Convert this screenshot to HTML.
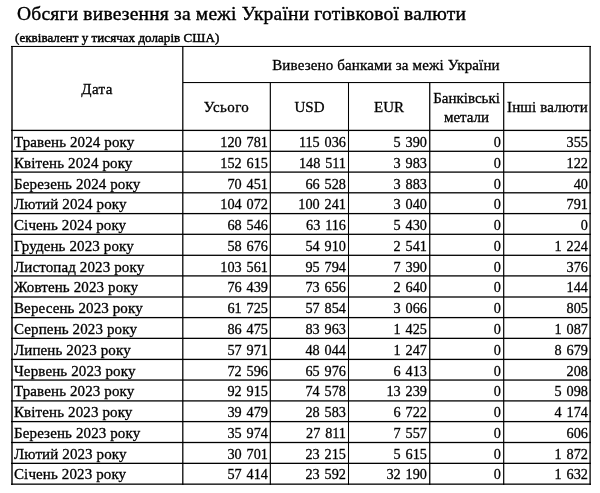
<!DOCTYPE html>
<html><head><meta charset="utf-8"><style>
html,body{margin:0;padding:0;background:#fff;}
body{width:600px;height:493px;position:relative;overflow:hidden;font-family:"Liberation Serif","Noto Serif CJK SC",serif;color:#000;}
.l{position:absolute;}
.t,.h,.n{position:absolute;white-space:nowrap;font-size:15px;line-height:20px;height:20px;-webkit-text-stroke:0.3px #000;}
.h{text-align:center;}
.t{letter-spacing:0.12px;}
.n{text-align:right;font-size:15.5px;word-spacing:1.4px;transform:scaleX(0.92);transform-origin:100% 0;}
.title{position:absolute;left:17px;top:2px;font-size:19.5px;white-space:nowrap;line-height:23px;letter-spacing:0.2px;-webkit-text-stroke:0.4px #000;}
.sub{position:absolute;left:15px;top:31px;font-size:13px;letter-spacing:0.05px;white-space:nowrap;line-height:14px;-webkit-text-stroke:0.45px #000;}
</style></head><body>
<div class="title">Обсяги вивезення за межі України готівкової валюти</div>
<div class="sub">(еквівалент у тисячах доларів США)</div>
<div class="l" style="left:11px;top:45px;width:580px;height:1px;background:rgba(0,0,0,0.07)"></div>
<div class="l" style="left:11px;top:46px;width:580px;height:1px;background:rgba(0,0,0,0.98)"></div>
<div class="l" style="left:183px;top:82px;width:408px;height:1px;background:rgba(0,0,0,0.98)"></div>
<div class="l" style="left:183px;top:83px;width:408px;height:1px;background:rgba(0,0,0,0.08)"></div>
<div class="l" style="left:11px;top:129px;width:580px;height:1px;background:rgba(0,0,0,0.25)"></div>
<div class="l" style="left:11px;top:130px;width:580px;height:1px;background:rgba(0,0,0,1.00)"></div>
<div class="l" style="left:11px;top:131px;width:580px;height:1px;background:rgba(0,0,0,0.05)"></div>
<div class="l" style="left:11px;top:150px;width:580px;height:1px;background:rgba(0,0,0,0.35)"></div>
<div class="l" style="left:11px;top:151px;width:580px;height:1px;background:rgba(0,0,0,0.95)"></div>
<div class="l" style="left:11px;top:171px;width:580px;height:1px;background:rgba(0,0,0,0.55)"></div>
<div class="l" style="left:11px;top:172px;width:580px;height:1px;background:rgba(0,0,0,0.75)"></div>
<div class="l" style="left:11px;top:192px;width:580px;height:1px;background:rgba(0,0,0,0.85)"></div>
<div class="l" style="left:11px;top:193px;width:580px;height:1px;background:rgba(0,0,0,0.45)"></div>
<div class="l" style="left:11px;top:212px;width:580px;height:1px;background:rgba(0,0,0,0.05)"></div>
<div class="l" style="left:11px;top:213px;width:580px;height:1px;background:rgba(0,0,0,1.00)"></div>
<div class="l" style="left:11px;top:214px;width:580px;height:1px;background:rgba(0,0,0,0.25)"></div>
<div class="l" style="left:11px;top:233px;width:580px;height:1px;background:rgba(0,0,0,0.35)"></div>
<div class="l" style="left:11px;top:234px;width:580px;height:1px;background:rgba(0,0,0,0.95)"></div>
<div class="l" style="left:11px;top:254px;width:580px;height:1px;background:rgba(0,0,0,0.35)"></div>
<div class="l" style="left:11px;top:255px;width:580px;height:1px;background:rgba(0,0,0,0.95)"></div>
<div class="l" style="left:11px;top:275px;width:580px;height:1px;background:rgba(0,0,0,0.75)"></div>
<div class="l" style="left:11px;top:276px;width:580px;height:1px;background:rgba(0,0,0,0.55)"></div>
<div class="l" style="left:11px;top:296px;width:580px;height:1px;background:rgba(0,0,0,0.65)"></div>
<div class="l" style="left:11px;top:297px;width:580px;height:1px;background:rgba(0,0,0,0.65)"></div>
<div class="l" style="left:11px;top:316px;width:580px;height:1px;background:rgba(0,0,0,0.05)"></div>
<div class="l" style="left:11px;top:317px;width:580px;height:1px;background:rgba(0,0,0,1.00)"></div>
<div class="l" style="left:11px;top:318px;width:580px;height:1px;background:rgba(0,0,0,0.25)"></div>
<div class="l" style="left:11px;top:337px;width:580px;height:1px;background:rgba(0,0,0,0.30)"></div>
<div class="l" style="left:11px;top:338px;width:580px;height:1px;background:rgba(0,0,0,1.00)"></div>
<div class="l" style="left:11px;top:358px;width:580px;height:1px;background:rgba(0,0,0,0.25)"></div>
<div class="l" style="left:11px;top:359px;width:580px;height:1px;background:rgba(0,0,0,1.00)"></div>
<div class="l" style="left:11px;top:360px;width:580px;height:1px;background:rgba(0,0,0,0.05)"></div>
<div class="l" style="left:11px;top:379px;width:580px;height:1px;background:rgba(0,0,0,0.60)"></div>
<div class="l" style="left:11px;top:380px;width:580px;height:1px;background:rgba(0,0,0,0.70)"></div>
<div class="l" style="left:11px;top:400px;width:580px;height:1px;background:rgba(0,0,0,0.75)"></div>
<div class="l" style="left:11px;top:401px;width:580px;height:1px;background:rgba(0,0,0,0.55)"></div>
<div class="l" style="left:11px;top:420px;width:580px;height:1px;background:rgba(0,0,0,0.05)"></div>
<div class="l" style="left:11px;top:421px;width:580px;height:1px;background:rgba(0,0,0,1.00)"></div>
<div class="l" style="left:11px;top:422px;width:580px;height:1px;background:rgba(0,0,0,0.25)"></div>
<div class="l" style="left:11px;top:441px;width:580px;height:1px;background:rgba(0,0,0,0.15)"></div>
<div class="l" style="left:11px;top:442px;width:580px;height:1px;background:rgba(0,0,0,1.00)"></div>
<div class="l" style="left:11px;top:443px;width:580px;height:1px;background:rgba(0,0,0,0.15)"></div>
<div class="l" style="left:11px;top:462px;width:580px;height:1px;background:rgba(0,0,0,0.30)"></div>
<div class="l" style="left:11px;top:463px;width:580px;height:1px;background:rgba(0,0,0,1.00)"></div>
<div class="l" style="left:11px;top:483px;width:580px;height:1px;background:rgba(0,0,0,0.50)"></div>
<div class="l" style="left:11px;top:484px;width:580px;height:1px;background:rgba(0,0,0,0.80)"></div>
<div class="l" style="left:11px;top:46px;width:1px;height:439px;background:rgba(0,0,0,0.70)"></div>
<div class="l" style="left:12px;top:46px;width:1px;height:439px;background:rgba(0,0,0,0.70)"></div>
<div class="l" style="left:182px;top:46px;width:1px;height:439px;background:rgba(0,0,0,0.83)"></div>
<div class="l" style="left:183px;top:46px;width:1px;height:439px;background:rgba(0,0,0,0.44)"></div>
<div class="l" style="left:269px;top:83px;width:1px;height:402px;background:rgba(0,0,0,0.25)"></div>
<div class="l" style="left:270px;top:83px;width:1px;height:402px;background:rgba(0,0,0,0.90)"></div>
<div class="l" style="left:347px;top:83px;width:1px;height:402px;background:rgba(0,0,0,0.02)"></div>
<div class="l" style="left:348px;top:83px;width:1px;height:402px;background:rgba(0,0,0,1.00)"></div>
<div class="l" style="left:349px;top:83px;width:1px;height:402px;background:rgba(0,0,0,0.02)"></div>
<div class="l" style="left:429px;top:83px;width:1px;height:402px;background:rgba(0,0,0,0.88)"></div>
<div class="l" style="left:430px;top:83px;width:1px;height:402px;background:rgba(0,0,0,0.37)"></div>
<div class="l" style="left:503px;top:83px;width:1px;height:402px;background:rgba(0,0,0,0.90)"></div>
<div class="l" style="left:504px;top:83px;width:1px;height:402px;background:rgba(0,0,0,0.30)"></div>
<div class="l" style="left:589px;top:46px;width:1px;height:439px;background:rgba(0,0,0,0.55)"></div>
<div class="l" style="left:590px;top:46px;width:1px;height:439px;background:rgba(0,0,0,0.75)"></div>
<div class="h" style="left:12px;top:79px;width:170px;letter-spacing:0.4px">Дата</div>
<div class="h" style="left:183px;top:55px;width:406px;letter-spacing:0.15px">Вивезено банками за межі України</div>
<div class="h" style="left:183px;top:97px;width:87px;letter-spacing:0.4px">Усього</div>
<div class="h" style="left:271px;top:97px;width:77px;">USD</div>
<div class="h" style="left:349px;top:97px;width:80px;">EUR</div>
<div class="h" style="left:430px;top:88px;width:73px;">Банківські</div>
<div class="h" style="left:430px;top:107px;width:73px;">метали</div>
<div class="h" style="left:505px;top:97px;width:85px;letter-spacing:0.15px">Інші валюти</div>
<div class="t" style="left:14px;top:132px">Травень 2024 року</div>
<div class="n" style="left:188px;top:132px;width:80px">120 781</div>
<div class="n" style="left:266px;top:132px;width:80px">115 036</div>
<div class="n" style="left:347px;top:132px;width:80px">5 390</div>
<div class="n" style="left:421px;top:132px;width:80px">0</div>
<div class="n" style="left:508px;top:132px;width:80px">355</div>
<div class="t" style="left:14px;top:153px">Квітень 2024 року</div>
<div class="n" style="left:188px;top:153px;width:80px">152 615</div>
<div class="n" style="left:266px;top:153px;width:80px">148 511</div>
<div class="n" style="left:347px;top:153px;width:80px">3 983</div>
<div class="n" style="left:421px;top:153px;width:80px">0</div>
<div class="n" style="left:508px;top:153px;width:80px">122</div>
<div class="t" style="left:14px;top:174px">Березень 2024 року</div>
<div class="n" style="left:188px;top:174px;width:80px">70 451</div>
<div class="n" style="left:266px;top:174px;width:80px">66 528</div>
<div class="n" style="left:347px;top:174px;width:80px">3 883</div>
<div class="n" style="left:421px;top:174px;width:80px">0</div>
<div class="n" style="left:508px;top:174px;width:80px">40</div>
<div class="t" style="left:14px;top:194px">Лютий 2024 року</div>
<div class="n" style="left:188px;top:194px;width:80px">104 072</div>
<div class="n" style="left:266px;top:194px;width:80px">100 241</div>
<div class="n" style="left:347px;top:194px;width:80px">3 040</div>
<div class="n" style="left:421px;top:194px;width:80px">0</div>
<div class="n" style="left:508px;top:194px;width:80px">791</div>
<div class="t" style="left:14px;top:215px">Січень 2024 року</div>
<div class="n" style="left:188px;top:215px;width:80px">68 546</div>
<div class="n" style="left:266px;top:215px;width:80px">63 116</div>
<div class="n" style="left:347px;top:215px;width:80px">5 430</div>
<div class="n" style="left:421px;top:215px;width:80px">0</div>
<div class="n" style="left:508px;top:215px;width:80px">0</div>
<div class="t" style="left:14px;top:236px">Грудень 2023 року</div>
<div class="n" style="left:188px;top:236px;width:80px">58 676</div>
<div class="n" style="left:266px;top:236px;width:80px">54 910</div>
<div class="n" style="left:347px;top:236px;width:80px">2 541</div>
<div class="n" style="left:421px;top:236px;width:80px">0</div>
<div class="n" style="left:508px;top:236px;width:80px">1 224</div>
<div class="t" style="left:14px;top:257px">Листопад 2023 року</div>
<div class="n" style="left:188px;top:257px;width:80px">103 561</div>
<div class="n" style="left:266px;top:257px;width:80px">95 794</div>
<div class="n" style="left:347px;top:257px;width:80px">7 390</div>
<div class="n" style="left:421px;top:257px;width:80px">0</div>
<div class="n" style="left:508px;top:257px;width:80px">376</div>
<div class="t" style="left:14px;top:277px">Жовтень 2023 року</div>
<div class="n" style="left:188px;top:277px;width:80px">76 439</div>
<div class="n" style="left:266px;top:277px;width:80px">73 656</div>
<div class="n" style="left:347px;top:277px;width:80px">2 640</div>
<div class="n" style="left:421px;top:277px;width:80px">0</div>
<div class="n" style="left:508px;top:277px;width:80px">144</div>
<div class="t" style="left:14px;top:298px">Вересень 2023 року</div>
<div class="n" style="left:188px;top:298px;width:80px">61 725</div>
<div class="n" style="left:266px;top:298px;width:80px">57 854</div>
<div class="n" style="left:347px;top:298px;width:80px">3 066</div>
<div class="n" style="left:421px;top:298px;width:80px">0</div>
<div class="n" style="left:508px;top:298px;width:80px">805</div>
<div class="t" style="left:14px;top:319px">Серпень 2023 року</div>
<div class="n" style="left:188px;top:319px;width:80px">86 475</div>
<div class="n" style="left:266px;top:319px;width:80px">83 963</div>
<div class="n" style="left:347px;top:319px;width:80px">1 425</div>
<div class="n" style="left:421px;top:319px;width:80px">0</div>
<div class="n" style="left:508px;top:319px;width:80px">1 087</div>
<div class="t" style="left:14px;top:340px">Липень 2023 року</div>
<div class="n" style="left:188px;top:340px;width:80px">57 971</div>
<div class="n" style="left:266px;top:340px;width:80px">48 044</div>
<div class="n" style="left:347px;top:340px;width:80px">1 247</div>
<div class="n" style="left:421px;top:340px;width:80px">0</div>
<div class="n" style="left:508px;top:340px;width:80px">8 679</div>
<div class="t" style="left:14px;top:361px">Червень 2023 року</div>
<div class="n" style="left:188px;top:361px;width:80px">72 596</div>
<div class="n" style="left:266px;top:361px;width:80px">65 976</div>
<div class="n" style="left:347px;top:361px;width:80px">6 413</div>
<div class="n" style="left:421px;top:361px;width:80px">0</div>
<div class="n" style="left:508px;top:361px;width:80px">208</div>
<div class="t" style="left:14px;top:381px">Травень 2023 року</div>
<div class="n" style="left:188px;top:381px;width:80px">92 915</div>
<div class="n" style="left:266px;top:381px;width:80px">74 578</div>
<div class="n" style="left:347px;top:381px;width:80px">13 239</div>
<div class="n" style="left:421px;top:381px;width:80px">0</div>
<div class="n" style="left:508px;top:381px;width:80px">5 098</div>
<div class="t" style="left:14px;top:402px">Квітень 2023 року</div>
<div class="n" style="left:188px;top:402px;width:80px">39 479</div>
<div class="n" style="left:266px;top:402px;width:80px">28 583</div>
<div class="n" style="left:347px;top:402px;width:80px">6 722</div>
<div class="n" style="left:421px;top:402px;width:80px">0</div>
<div class="n" style="left:508px;top:402px;width:80px">4 174</div>
<div class="t" style="left:14px;top:423px">Березень 2023 року</div>
<div class="n" style="left:188px;top:423px;width:80px">35 974</div>
<div class="n" style="left:266px;top:423px;width:80px">27 811</div>
<div class="n" style="left:347px;top:423px;width:80px">7 557</div>
<div class="n" style="left:421px;top:423px;width:80px">0</div>
<div class="n" style="left:508px;top:423px;width:80px">606</div>
<div class="t" style="left:14px;top:444px">Лютий 2023 року</div>
<div class="n" style="left:188px;top:444px;width:80px">30 701</div>
<div class="n" style="left:266px;top:444px;width:80px">23 215</div>
<div class="n" style="left:347px;top:444px;width:80px">5 615</div>
<div class="n" style="left:421px;top:444px;width:80px">0</div>
<div class="n" style="left:508px;top:444px;width:80px">1 872</div>
<div class="t" style="left:14px;top:464px">Січень 2023 року</div>
<div class="n" style="left:188px;top:464px;width:80px">57 414</div>
<div class="n" style="left:266px;top:464px;width:80px">23 592</div>
<div class="n" style="left:347px;top:464px;width:80px">32 190</div>
<div class="n" style="left:421px;top:464px;width:80px">0</div>
<div class="n" style="left:508px;top:464px;width:80px">1 632</div>
</body></html>
